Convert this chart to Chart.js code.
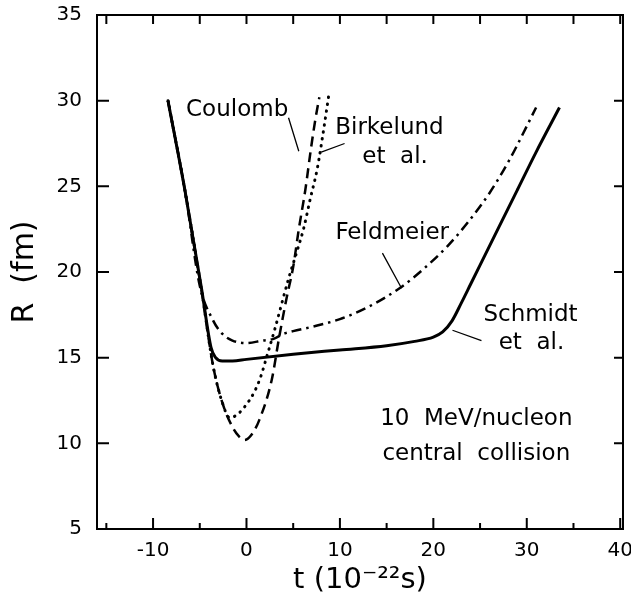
<!DOCTYPE html>
<html>
<head>
<meta charset="utf-8">
<script src="https://cdn.jsdelivr.net/npm/chart.js@4.4.0/dist/chart.umd.min.js"></script>
<style>
  body { margin: 0; background: #fff; }
</style>
</head>
<body>
<canvas id="chart" width="631" height="604"></canvas>
<script>
// separation R (fm) against time t (10^-22 s), one pair of arrays per model
const schmidtT = [-8.4, -6.6, -4.8, -3.8, -3.3, -2.6, -1.5, 0, 5, 10, 15, 18, 20, 21, 22, 23, 24, 25, 27, 29, 31, 33.5];
const schmidtR = [30.0, 24.8, 19.0, 15.6, 15.0, 14.8, 14.8, 14.9, 15.2, 15.45, 15.7, 15.95, 16.2, 16.5, 17.15, 18.2, 19.3, 20.4, 22.6, 24.8, 27.0, 29.6];

const feldmeierT = [-8.4, -6.6, -5.0, -3.6, -2.6, -1.5, 0, 1.7, 2.9, 4, 5, 7, 10, 13, 16.5, 19, 21.5, 23.7, 26, 28.1, 31];
const feldmeierR = [30.0, 24.8, 19.2, 17.2, 16.4, 16.0, 15.85, 16.0, 16.1, 16.4, 16.55, 16.8, 17.25, 17.95, 19.1, 20.2, 21.5, 22.9, 24.6, 26.5, 29.6];

const coulombT = [-8.4, -6.6, -4.8, -3.6, -2.6, -1.5, -0.8, -0.2, 0.6, 1.4, 2.7, 3.5, 4.3, 5.0, 5.6, 6.3, 6.9, 7.4, 7.8];
const coulombR = [30.0, 24.8, 18.9, 14.6, 12.4, 10.95, 10.4, 10.2, 10.55, 11.4, 13.7, 16.2, 18.5, 20.3, 22.5, 24.8, 27.2, 29.0, 30.2];

const birkelundT = [-8.4, -6.6, -4.8, -3.6, -2.6, -1.8, 0.3, 1.4, 2.3, 3.0, 4.5, 5.4, 6.1, 6.8, 7.6, 8.2, 8.8];
const birkelundR = [30.0, 24.8, 18.9, 14.6, 12.4, 11.5, 12.5, 13.7, 15.3, 16.6, 19.6, 21.2, 22.5, 24.2, 26.1, 28.1, 30.3];

// only every other x tick carries a number
const xLabelled = [-10, 0, 10, 20, 30, 40];
const yLabelled = [5, 10, 15, 20, 25, 30, 35];

function pts(ts, rs) {
  return ts.map((t, i) => ({ x: t, y: rs[i] }));
}

// curve names and the caption, placed in data coordinates
const notes = [
  { text: 'Coulomb', t: -1.0, r: 29.45 },
  { text: 'Birkelund', t: 15.3, r: 28.4 },
  { text: 'et  al.', t: 15.9, r: 26.7 },
  { text: 'Feldmeier', t: 15.6, r: 22.3 },
  { text: 'Schmidt', t: 30.4, r: 17.5 },
  { text: 'et  al.', t: 30.5, r: 15.85 },
  { text: '10  MeV/nucleon', t: 24.6, r: 11.4 },
  { text: 'central  collision', t: 24.6, r: 9.35 }
];
const leaders = [
  [4.5, 29.0, 5.6, 27.05],
  [10.5, 27.5, 8.0, 27.0],
  [14.55, 21.1, 16.6, 19.05],
  [22.05, 16.6, 25.15, 16.0]
];

const frame = {
  id: 'frame',
  afterDraw(chart) {
    const { ctx, chartArea: a, scales: { x, y } } = chart;
    ctx.save();
    ctx.strokeStyle = '#000';
    ctx.lineWidth = 2;
    ctx.strokeRect(a.left, a.top, a.right - a.left, a.bottom - a.top);
    ctx.beginPath();
    x.ticks.forEach(tk => {
      const px = x.getPixelForValue(tk.value);
      const big = tk.value % 10 === 0;
      ctx.moveTo(px, a.bottom);
      ctx.lineTo(px, a.bottom - (big ? 11 : 6));
      ctx.moveTo(px, a.top);
      ctx.lineTo(px, a.top + 9);
    });
    y.ticks.forEach(tk => {
      const py = y.getPixelForValue(tk.value);
      ctx.moveTo(a.left, py);
      ctx.lineTo(a.left + 12, py);
      ctx.moveTo(a.right, py);
      ctx.lineTo(a.right - 9, py);
    });
    ctx.stroke();

    ctx.lineWidth = 1.3;
    ctx.beginPath();
    leaders.forEach(l => {
      ctx.moveTo(x.getPixelForValue(l[0]), y.getPixelForValue(l[1]));
      ctx.lineTo(x.getPixelForValue(l[2]), y.getPixelForValue(l[3]));
    });
    ctx.stroke();

    ctx.fillStyle = '#000';
    ctx.font = '23px "DejaVu Sans"';
    ctx.textAlign = 'center';
    ctx.textBaseline = 'middle';
    notes.forEach(n => ctx.fillText(n.text, x.getPixelForValue(n.t), y.getPixelForValue(n.r)));
    ctx.restore();
  }
};

Chart.defaults.font.family = '"DejaVu Sans"';
Chart.defaults.color = '#000';

new Chart(document.getElementById('chart'), {
  type: 'scatter',
  data: {
    datasets: [
      {
        label: 'Schmidt et al.',
        data: pts(schmidtT, schmidtR),
        borderColor: '#000',
        borderWidth: 3
      },
      {
        label: 'Feldmeier',
        data: pts(feldmeierT, feldmeierR),
        borderColor: '#000',
        borderWidth: 2.5,
        borderDash: [10, 5, 2.5, 5]
      },
      {
        label: 'Coulomb',
        data: pts(coulombT, coulombR),
        borderColor: '#000',
        borderWidth: 2.5,
        borderDash: [10, 6]
      },
      {
        label: 'Birkelund et al.',
        data: pts(birkelundT, birkelundR),
        borderColor: '#000',
        borderWidth: 3,
        borderCapStyle: 'round',
        borderDash: [0.5, 6.5]
      }
    ]
  },
  options: {
    responsive: false,
    animation: false,
    devicePixelRatio: 1,
    showLine: true,
    elements: {
      point: { radius: 0 },
      line: { cubicInterpolationMode: 'monotone', fill: false }
    },
    layout: { padding: { top: 15, right: 8, left: 0, bottom: 0 } },
    plugins: { legend: { display: false }, tooltip: { enabled: false } },
    scales: {
      x: {
        type: 'linear',
        min: -16,
        max: 40.3,
        grid: { display: false, drawTicks: false },
        border: { display: false },
        ticks: {
          stepSize: 5,
          includeBounds: false,
          maxRotation: 0,
          autoSkip: false,
          padding: 10,
          font: { size: 20 },
          callback: v => (xLabelled.includes(v) ? String(v) : '')
        },
        title: {
          display: true,
          text: 't (10⁻²²s)',
          font: { size: 29 },
          padding: { top: 0, bottom: 6 }
        },
        afterFit: s => {
          s.height = 75;
          s.paddingLeft = 0;
          s.paddingRight = 0;
        }
      },
      y: {
        type: 'linear',
        min: 5,
        max: 35,
        grid: { display: false, drawTicks: false },
        border: { display: false },
        ticks: {
          stepSize: 5,
          padding: 15,
          font: { size: 20 },
          callback: v => (yLabelled.includes(v) ? String(v) : '')
        },
        title: {
          display: true,
          text: 'R  (fm)',
          font: { size: 30 },
          padding: { top: 7, bottom: 0 }
        },
        afterFit: s => {
          s.width = 97;
          s.paddingTop = 0;
          s.paddingBottom = 0;
        }
      }
    }
  },
  plugins: [frame]
});
</script>
</body>
</html>
